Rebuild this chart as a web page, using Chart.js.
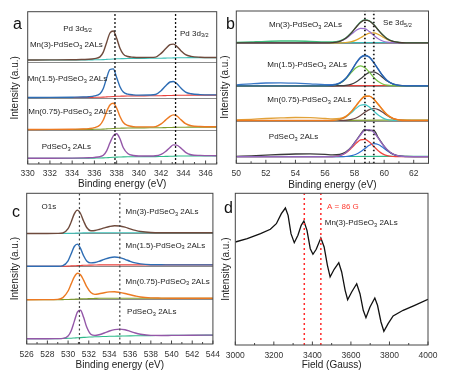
<!DOCTYPE html>
<html>
<head>
<meta charset="utf-8">
<script src="https://cdn.jsdelivr.net/npm/chart.js@4.4.0/dist/chart.umd.min.js"></script>
<style>
  html, body { margin: 0; padding: 0; background: #fff; }
  #wrap { position: relative; width: 463px; height: 375px; overflow: hidden; background: #fff; }
  canvas { position: absolute; }
</style>
</head>
<body>
<div id="wrap">
  <canvas id="pa" width="226" height="192" style="left:0;top:0"></canvas>
  <canvas id="pb" width="249" height="192" style="left:214px;top:0"></canvas>
  <canvas id="pc" width="226" height="195" style="left:0;top:180px"></canvas>
  <canvas id="pd" width="249" height="195" style="left:214px;top:180px"></canvas>
</div>
<script>
// ---- panel a : Pd 3d ----
const energyA = [330, 332, 334, 335, 335.5, 336, 336.5, 336.8, 337.1, 337.4, 337.7, 338.0, 338.3, 338.6, 339, 339.5, 340, 341, 341.5, 342, 342.4, 342.8, 343.1, 343.4, 343.8, 344.2, 344.7, 345.5, 347]
const mn3A = [0, 0.1, 0.2, 0.5, 0.7, 1.4, 3.1, 7.9, 17.6, 27.0, 29.0, 21.7, 11.8, 5.9, 3.5, 2.8, 2.5, 2.6, 2.9, 6.6, 11.2, 15.3, 15.9, 13.8, 9.1, 5.3, 3.6, 2.8, 2.5]
const mn15A = [0, 0.1, 0.3, 0.5, 0.8, 1.6, 3.8, 9.0, 19.5, 28.0, 28.6, 20.0, 10.8, 5.4, 3.3, 2.6, 2.4, 2.5, 3.0, 6.8, 11.5, 15.5, 16.0, 14.0, 9.2, 5.4, 3.7, 2.9, 2.6]
const mn075A = [0, 0.1, 0.3, 0.5, 0.9, 1.8, 4.5, 9.5, 18.0, 24.5, 26.2, 21.5, 13.0, 7.0, 4.0, 2.9, 2.6, 2.6, 2.9, 5.6, 9.4, 13.2, 14.6, 13.6, 9.6, 5.8, 3.8, 3.0, 2.7]
const pdA = [0, 0, 0.2, 0.4, 0.6, 0.9, 1.6, 3.0, 7.5, 15.5, 22.5, 24.5, 19.5, 10.5, 4.8, 2.8, 2.3, 2.3, 2.5, 4.0, 6.8, 10.8, 13.4, 13.2, 10.0, 6.0, 3.6, 2.9, 2.6]
const bgA = [0, 0, 0, 0.1, 0.1, 0.2, 0.3, 0.4, 0.6, 0.8, 1.0, 1.2, 1.3, 1.4, 1.5, 1.6, 1.6, 1.7, 1.7, 1.8, 1.9, 2.0, 2.1, 2.2, 2.3, 2.3, 2.4, 2.4, 2.4]
const offsetsA = [104, 66.5, 34.5, 5.7]
const splitA = [101.3, 65.7, 34]
const peaksA = [337.85, 343.3]

// ---- panel b : Se 3d ----
const energyB = [50, 51, 52, 53, 54, 55, 56, 56.5, 57, 57.4, 57.8, 58.1, 58.4, 58.7, 59.0, 59.3, 59.6, 59.9, 60.2, 60.6, 61, 61.5, 62, 63]
const mn3RawB = [0.3, 0.9, 1.5, 1.8, 1.8, 1.4, 0.9, 0.8, 1.9, 4.8, 10.3, 15.6, 20.8, 22.8, 22.0, 18.4, 12.9, 8.0, 4.2, 1.5, 0.5, 0.2, 0.1, 0.1]
const mn3FitB = [0, 0, 0, 0, 0, 0, 0, 0.2, 1.4, 4.5, 10.2, 15.6, 20.4, 22.6, 21.8, 18.0, 12.8, 7.9, 4.1, 1.4, 0.3, 0, 0, 0]
const mn3LowB = [0, 0, 0, 0, 0, 0, 0, 0.3, 1.3, 4.0, 8.7, 12.4, 14.5, 14.1, 11.2, 7.4, 4.0, 1.8, 0.6, 0.1, 0, 0, 0, 0]
const mn3HighB = [0, 0, 0, 0, 0, 0, 0, 0, 0, 0.3, 1.2, 2.7, 5.0, 7.6, 9.6, 9.9, 8.4, 5.9, 3.4, 1.2, 0.3, 0, 0, 0]
const mn15RawB = [1.0, 2.0, 2.8, 3.0, 2.6, 2.0, 1.2, 1.2, 3.0, 7.6, 15.6, 22.8, 28.5, 30.6, 28.8, 23.4, 16.6, 10.0, 5.2, 1.9, 0.5, 0.2, 0.1, 0]
const mn15FitB = [0, 0, 0, 0, 0, 0, 0, 0.4, 2.5, 7.2, 15.3, 22.5, 28.0, 30.0, 28.5, 23.0, 16.5, 10.3, 5.4, 1.8, 0.4, 0, 0, 0]
const mn15LowB = [0, 0, 0, 0, 0, 0, 0, 0.4, 2.4, 6.8, 13.6, 18.1, 20.0, 18.1, 13.6, 8.3, 4.2, 1.8, 0.6, 0.1, 0, 0, 0, 0]
const mn15HighB = [0, 0, 0, 0, 0, 0, 0, 0, 0.1, 0.4, 1.7, 3.8, 7.0, 10.6, 13.4, 13.9, 11.8, 8.3, 4.8, 1.7, 0.4, 0, 0, 0]
const mn075RawB = [0.5, 1.2, 2.0, 2.6, 3.0, 2.8, 2.0, 1.5, 2.0, 4.2, 9.4, 14.9, 20.6, 24.5, 24.4, 21.2, 16.0, 10.5, 5.8, 2.0, 0.6, 0.3, 0.2, 0.1]
const mn075FitB = [0, 0, 0, 0, 0, 0, 0, 0, 1.0, 3.6, 9.1, 14.6, 20.3, 24.0, 24.3, 21.4, 16.3, 10.8, 6.0, 2.1, 0.5, 0, 0, 0]
const mn075LowB = [0, 0, 0, 0, 0, 0, 0, 0, 1.0, 3.4, 8.0, 12.1, 15.3, 15.8, 13.4, 9.4, 5.4, 2.6, 1.0, 0.2, 0, 0, 0, 0]
const mn075HighB = [0, 0, 0, 0, 0, 0, 0, 0, 0, 0.2, 1.1, 2.5, 5.0, 8.2, 10.9, 12.0, 10.9, 8.2, 5.0, 1.9, 0.5, 0, 0, 0]
const pdRawB = [0.3, 0.8, 1.5, 2.2, 2.7, 2.8, 2.4, 1.8, 2.3, 4.6, 10.1, 16.0, 22.4, 27.2, 26.0, 26.4, 19.0, 12.5, 7.0, 2.6, 0.8, 0.3, 0.1, 0]
const pdFitB = [0, 0, 0, 0, 0, 0, 0, 0, 1.1, 3.9, 9.8, 15.7, 21.7, 26.5, 27.0, 24.5, 18.6, 12.2, 7.1, 2.6, 0.7, 0.1, 0, 0]
const pdLowB = [0, 0, 0, 0, 0, 0, 0, 0, 1.1, 3.7, 8.8, 13.3, 16.8, 17.3, 14.7, 10.3, 6.0, 2.8, 1.1, 0.2, 0, 0, 0, 0]
const pdHighB = [0, 0, 0, 0, 0, 0, 0, 0, 0, 0.2, 1.0, 2.4, 4.9, 8.2, 11.4, 13.0, 12.2, 9.4, 6.0, 2.4, 0.7, 0.1, 0, 0]
const energyBgB = [50, 56, 57.5, 60.5, 63]
const bgB = [0, 0, 0.2, 0.3, 0.3]
const offsetsB = [120.5, 77.5, 42.8, 6.6]
const splitB = [119.8, 77, 42.3]
const peaksB = [58.7, 59.3]

// ---- panel c : O 1s ----
const energyC = [526, 528, 529, 529.5, 530, 530.3, 530.6, 530.9, 531.2, 531.5, 531.8, 532.2, 532.6, 533, 533.5, 534, 534.5, 535, 535.5, 536, 536.5, 537, 538, 539, 540, 542, 544]
const mn3C = [0, 0, 0.1, 0.5, 4.8, 11.6, 19.6, 23.4, 20.0, 12.5, 6.0, 2.8, 3.0, 4.0, 5.6, 7.0, 7.8, 7.5, 6.3, 4.6, 3.1, 2.0, 1.0, 0.8, 0.8, 0.8, 0.8]
const mn3BgC = [0, 0, 0, 0, 0.1, 0.2, 0.3, 0.4, 0.5, 0.6, 0.7, 0.7, 0.8, 0.8, 0.8, 0.8, 0.8, 0.8, 0.8, 0.8, 0.8, 0.8, 0.8, 0.8, 0.8, 0.8, 0.8]
const mn15C = [0, 0, 0.1, 0.7, 5.5, 12.5, 19.8, 22.2, 18.0, 10.5, 5.4, 3.4, 3.8, 5.0, 6.9, 8.6, 9.3, 8.7, 7.0, 5.0, 3.4, 2.4, 1.6, 1.5, 1.4, 1.4, 1.4]
const mn15BgC = [0, 0, 0, 0.1, 0.2, 0.4, 0.5, 0.7, 0.8, 1.0, 1.1, 1.2, 1.3, 1.4, 1.4, 1.4, 1.4, 1.4, 1.4, 1.4, 1.4, 1.4, 1.4, 1.4, 1.4, 1.4, 1.4]
const mn075C = [0, 0.05, 0.3, 2.1, 8.7, 15.8, 22.8, 26.5, 25.0, 19.6, 13.0, 7.2, 5.3, 5.9, 7.0, 7.8, 8.0, 7.3, 6.2, 4.9, 3.7, 2.7, 1.8, 1.6, 1.5, 1.5, 1.5]
const mn075BgC = [0, 0, 0, 0.1, 0.2, 0.3, 0.5, 0.6, 0.8, 0.9, 1.0, 1.2, 1.3, 1.4, 1.5, 1.5, 1.5, 1.5, 1.5, 1.5, 1.5, 1.5, 1.5, 1.5, 1.5, 1.5, 1.5]
const pdC = [0, 0, 0.1, 0.3, 2.6, 7.9, 17.3, 26.6, 28.5, 21.4, 11.6, 4.4, 3.3, 4.0, 5.7, 7.7, 9.1, 9.6, 8.9, 7.4, 5.7, 4.5, 3.3, 3.2, 3.3, 3.5, 3.6]
const pdBgC = [0, 0, 0.1, 0.2, 0.4, 0.5, 0.7, 0.9, 1.1, 1.3, 1.5, 1.7, 1.9, 2.0, 2.2, 2.4, 2.5, 2.6, 2.7, 2.8, 2.9, 3.0, 3.1, 3.2, 3.3, 3.5, 3.6]
const offsetsC = [110.5, 77.7, 44.3, 5.3]
const splitC = [110, 77, 44]
const peaksC = [531.1, 535.0]

// ---- panel d : EPR ----
const fieldD = [3000, 3062, 3131, 3182, 3213, 3239, 3260, 3274, 3289, 3306, 3325, 3342, 3356, 3372, 3389, 3403, 3420, 3444, 3461, 3478, 3492, 3513, 3537, 3552, 3570, 3583, 3604, 3630, 3647, 3664, 3678, 3699, 3724, 3738, 3756, 3771, 3793, 3819, 3871, 3931, 4000]
const signalD = [103, 106.3, 111.3, 115.7, 121.3, 131.3, 137, 129.7, 111.3, 102.3, 109.7, 119.7, 124, 114.7, 96.3, 90.7, 95.7, 107, 98, 79.7, 68, 75.7, 82.3, 73, 54.7, 45.3, 53, 61.3, 51.3, 34.7, 27.3, 38, 47, 39.7, 23, 13.7, 21.3, 29, 34.7, 39.7, 45.7]
const hyperfineD = [3358, 3444]

const FONT = "'Liberation Sans', Arial, Helvetica, sans-serif"
Chart.defaults.font.family = FONT
Chart.defaults.color = '#333'

function series(xs, ys, offset) {
    return ys.map((y, i) => ({ x: xs[i], y: y + offset }))
}

function curve(xs, ys, offset, color, width, order) {
    return {
        data: series(xs, ys, offset),
        borderColor: color,
        borderWidth: width,
        pointRadius: 0,
        fill: false,
        cubicInterpolationMode: 'monotone',
        order: order
    }
}

function marker(x, top, color, dash, width) {
    return {
        data: [{ x: x, y: 0 }, { x: x, y: top }],
        borderColor: color,
        borderDash: dash,
        borderWidth: width,
        pointRadius: 0,
        order: 0
    }
}

function label(name) {
    return name === 'PdSeO3'
        ? ['PdSeO', { sub: '3' }, ' 2ALs']
        : [name + '-PdSeO', { sub: '3' }, ' 2ALs']
}

function drawRich(ctx, parts, x, y, size, color) {
    ctx.fillStyle = color
    ctx.textBaseline = 'middle'
    ctx.textAlign = 'left'
    let cx = x
    parts.forEach(p => {
        const sub = typeof p !== 'string'
        const text = sub ? p.sub : p
        const fs = sub ? size * 0.7 : size
        ctx.font = fs + 'px ' + FONT
        ctx.fillText(text, cx, sub ? y + size * 0.3 : y)
        cx += ctx.measureText(text).width
    })
}

const notesPlugin = {
    id: 'notes',
    afterDraw(chart, args, opts) {
        const ctx = chart.ctx
        const a = chart.chartArea
        const x = chart.scales.x
        const y = chart.scales.y
        ctx.save()
        ctx.strokeStyle = '#444'
        ctx.lineWidth = 1
        ctx.strokeRect(a.left, a.top, a.right - a.left, a.bottom - a.top)
        x.ticks.forEach(t => {
            const px = x.getPixelForValue(t.value)
            const len = t.label !== '' ? 3.5 : 2
            ctx.beginPath()
            ctx.moveTo(px, a.bottom)
            ctx.lineTo(px, a.bottom - len)
            ctx.stroke()
        })
        const items = opts.items || []
        items.forEach(it => {
            drawRich(ctx, it.parts, x.getPixelForValue(it.x), y.getPixelForValue(it.y), 8, it.color || '#222')
        })
        if (opts.letter) {
            ctx.fillStyle = '#111'
            ctx.font = '16px ' + FONT
            ctx.textBaseline = 'alphabetic'
            ctx.textAlign = 'left'
            ctx.fillText(opts.letter.text, opts.letter.x, opts.letter.y)
        }
        ctx.restore()
    }
}

function makeChart(id, cfg) {
    const yScale = {
        min: 0,
        max: cfg.yMax,
        ticks: { display: false },
        grid: { display: !!cfg.splits, color: '#8c8c8c', lineWidth: 1, drawTicks: false },
        border: { display: false },
        title: {
            display: true,
            text: 'Intensity (a.u.)',
            color: '#222',
            font: { size: 10 },
            padding: { top: cfg.yTitlePad, bottom: 0 }
        },
        afterFit: s => { s.width = cfg.yWidth }
    }
    if (cfg.splits) {
        yScale.afterBuildTicks = s => { s.ticks = cfg.splits.map(v => ({ value: v })) }
    }
    return new Chart(document.getElementById(id), {
        type: 'line',
        data: { datasets: cfg.datasets },
        options: {
            responsive: false,
            animation: false,
            devicePixelRatio: 1,
            layout: { padding: cfg.padding },
            plugins: {
                legend: { display: false },
                tooltip: { enabled: false },
                notes: { items: cfg.notes, letter: cfg.letter }
            },
            scales: {
                x: {
                    type: 'linear',
                    min: cfg.xMin,
                    max: cfg.xMax,
                    ticks: {
                        stepSize: cfg.step,
                        autoSkip: false,
                        maxRotation: 0,
                        padding: cfg.tickPad,
                        color: '#333',
                        font: { size: 8.5 },
                        callback: v => (v % (2 * cfg.step) === 0 ? String(v) : '')
                    },
                    grid: { display: false, drawTicks: false },
                    border: { display: false },
                    title: {
                        display: true,
                        text: cfg.xTitle,
                        color: '#222',
                        font: { size: 10 },
                        padding: { top: 0, bottom: cfg.xTitlePad }
                    },
                    afterFit: s => { s.height = cfg.xHeight }
                },
                y: yScale
            }
        },
        plugins: [notesPlugin]
    })
}

// panel a
const colorsA = [['#6e4a3c', '#3cc0b8'], ['#2e6db4', '#e8413c'], ['#ec7a22', '#7f9c2e'], ['#9457a8', '#2fb98a']]
const dataA = [mn3A, mn15A, mn075A, pdA]
const setsA = []
dataA.forEach((ys, i) => {
    setsA.push(curve(energyA, ys, offsetsA[i], colorsA[i][0], 1.4, 1))
    setsA.push(curve(energyA, bgA, offsetsA[i], colorsA[i][1], 1.1, 2))
})
peaksA.forEach(p => setsA.push(marker(p, 152.3, '#111', [2, 2], 1.3)))

makeChart('pa', {
    datasets: setsA,
    padding: { left: 0, top: 11.7, right: 9.3, bottom: 0 },
    xMin: 330, xMax: 347, step: 1, tickPad: 5,
    xTitle: 'Binding energy (eV)', xTitlePad: 1.7, xHeight: 28,
    yMax: 152.3, splits: splitA, yTitlePad: 9, yWidth: 27.7,
    letter: { text: 'a', x: 13, y: 29.3 },
    notes: [
        { parts: ['Pd 3d', { sub: '5/2' }], x: 333.2, y: 135.7 },
        { parts: ['Pd 3d', { sub: '3/2' }], x: 343.7, y: 130.7 },
        { parts: label('Mn(3)'), x: 330.2, y: 119 },
        { parts: label('Mn(1.5)'), x: 330.0, y: 85 },
        { parts: label('Mn(0.75)'), x: 330.05, y: 52.3 },
        { parts: label('PdSeO3'), x: 331.26, y: 17.3 }
    ]
})

// panel b
const spectraB = [
    { raw: mn3RawB, fit: mn3FitB, low: mn3LowB, high: mn3HighB, c: ['#3dba7a', '#4a3a30', '#9a6fd0', '#e0a428', '#3ab8b8'] },
    { raw: mn15RawB, fit: mn15FitB, low: mn15LowB, high: mn15HighB, c: ['#3a78c8', '#2a62ad', '#74c043', '#3f3f3f', '#e8413c'] },
    { raw: mn075RawB, fit: mn075FitB, low: mn075LowB, high: mn075HighB, c: ['#e2a23a', '#f07a1c', '#3fc6c6', '#6a4444', '#7f9c2e'] },
    { raw: pdRawB, fit: pdFitB, low: pdLowB, high: pdHighB, c: ['#3a3a3a', '#9466c0', '#f0443c', '#2f6fd0', '#2fb98a'] }
]
const setsB = []
spectraB.forEach((s, i) => {
    const off = offsetsB[i]
    setsB.push(curve(energyB, s.fit, off, s.c[1], 1.3, 1))
    setsB.push(curve(energyB, s.raw, off, s.c[0], 1.3, 2))
    setsB.push(curve(energyB, s.low, off, s.c[2], 1.2, 3))
    setsB.push(curve(energyB, s.high, off, s.c[3], 1.2, 3))
    setsB.push(curve(energyBgB, bgB, off, s.c[4], 1.2, 4))
})
peaksB.forEach(p => setsB.push(marker(p, 152.3, '#222', [1.5, 2.5], 1.8)))

makeChart('pb', {
    datasets: setsB,
    padding: { left: 0, top: 11, right: 34.5, bottom: 0 },
    xMin: 50, xMax: 63, step: 1, tickPad: 5,
    xTitle: 'Binding energy (eV)', xTitlePad: 1, xHeight: 28.7,
    yMax: 152.3, splits: splitB, yTitlePad: 5, yWidth: 22.3,
    letter: { text: 'b', x: 12, y: 29.3 },
    notes: [
        { parts: label('Mn(3)'), x: 52.21, y: 138.3 },
        { parts: ['Se 3d', { sub: '5/2' }], x: 59.93, y: 140.6 },
        { parts: label('Mn(1.5)'), x: 52.1, y: 98.3 },
        { parts: label('Mn(0.75)'), x: 52.1, y: 63.3 },
        { parts: label('PdSeO3'), x: 52.2, y: 26.6 }
    ]
})

// panel c
const dataC = [[mn3C, mn3BgC], [mn15C, mn15BgC], [mn075C, mn075BgC], [pdC, pdBgC]]
const setsC = []
dataC.forEach((pair, i) => {
    setsC.push(curve(energyC, pair[0], offsetsC[i], colorsA[i][0], 1.4, 1))
    setsC.push(curve(energyC, pair[1], offsetsC[i], colorsA[i][1], 1.1, 2))
})
peaksC.forEach(p => setsC.push(marker(p, 150.7, '#444', [2, 2.5], 1.2)))

makeChart('pc', {
    datasets: setsC,
    padding: { left: 0, top: 13.3, right: 11, bottom: 0 },
    xMin: 526, xMax: 544, step: 1, tickPad: 6,
    xTitle: 'Binding energy (eV)', xTitlePad: 4, xHeight: 31,
    yMax: 150.7, splits: splitC, yTitlePad: 9, yWidth: 26.7,
    letter: { text: 'c', x: 12, y: 36.7 },
    notes: [
        { parts: ['O1s'], x: 527.43, y: 137 },
        { parts: label('Mn(3)'), x: 535.56, y: 132 },
        { parts: label('Mn(1.5)'), x: 535.56, y: 98.7 },
        { parts: label('Mn(0.75)'), x: 535.56, y: 62.7 },
        { parts: label('PdSeO3'), x: 535.7, y: 32 }
    ]
})

// panel d: the EPR trace is drawn with straight segments (the spline lost its ends here)
const epr = curve(fieldD, signalD, 0, '#111', 1.3, 1)
delete epr.cubicInterpolationMode
epr.tension = 0
const setsD = [epr]
hyperfineD.forEach(p => setsD.push(marker(p, 151.7, '#ff2a2a', [2, 3], 1.5)))

makeChart('pd', {
    datasets: setsD,
    padding: { left: 0, top: 13.3, right: 35, bottom: 0 },
    xMin: 3000, xMax: 4000, step: 100, tickPad: 6,
    xTitle: 'Field (Gauss)', xTitlePad: 4, xHeight: 30,
    yMax: 151.7, splits: null, yTitlePad: 6.5, yWidth: 21.3,
    letter: { text: 'd', x: 10, y: 33.3 },
    notes: [
        { parts: ['A = 86 G'], x: 3476, y: 138.7, color: '#ff3b30' },
        { parts: label('Mn(3)'), x: 3464, y: 122 }
    ]
})
</script>
</body>
</html>
